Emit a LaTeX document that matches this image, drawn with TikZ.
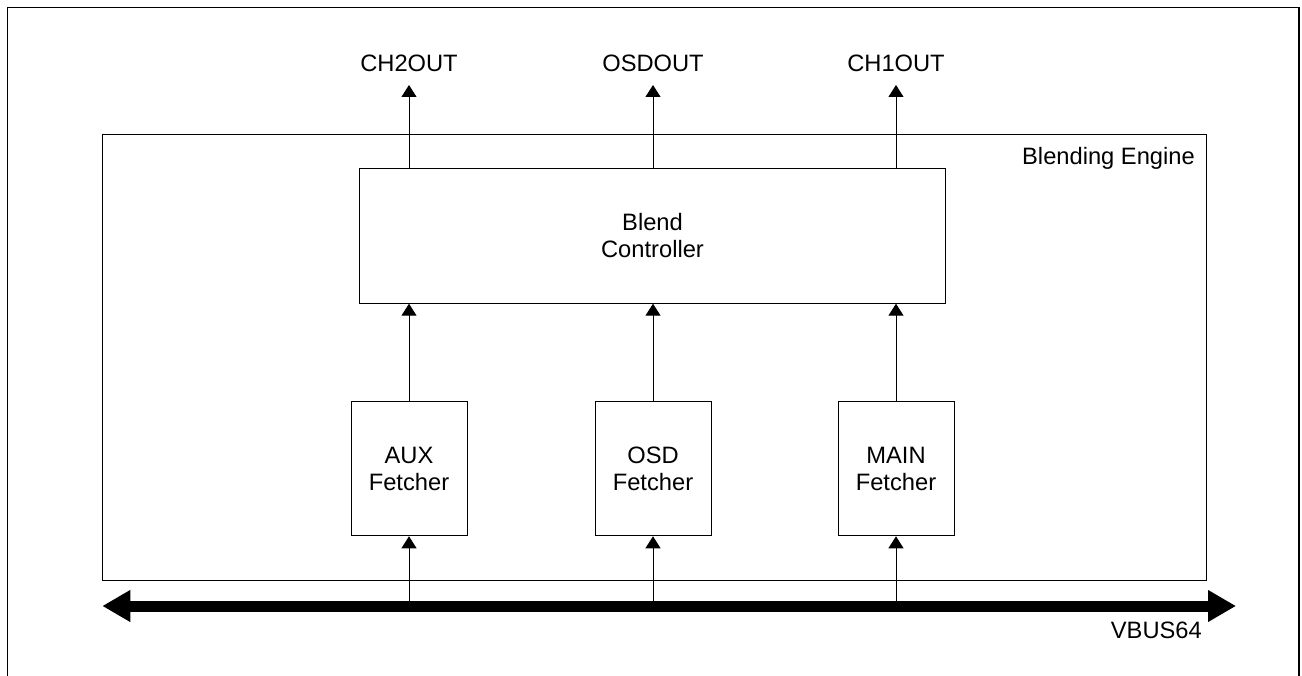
\documentclass[tikz,border=0pt]{standalone}
\usepackage{fontspec}
\setmainfont{Liberation Sans}
\usepackage{tikz}
\usetikzlibrary{arrows.meta, positioning}
\newcommand{\blockfont}{\fontsize{23.7}{26.5}\selectfont}
\tikzset{
  block/.style={
    rectangle, draw=black, line width=1pt,
    align=center, inner sep=0pt, font=\blockfont,
  },
  fetcher/.style={block, minimum width=116pt, minimum height=134pt},
  ctrlbox/.style={block, minimum width=586pt, minimum height=135pt},
  enginebox/.style={rectangle, draw=black, line width=1pt,
    minimum width=1103.7pt, minimum height=445pt, inner sep=0pt},
  lbl/.style={font=\blockfont, inner sep=0pt},
  arrow/.style={-{Triangle[length=12pt,width=15pt]}, line width=1pt},
  bus/.style={{Triangle[length=28pt,width=30pt]}-{Triangle[length=28pt,width=30pt]},
    line width=11pt},
  frame/.style={line width=1.2pt},
}

\begin{document}
\begin{tikzpicture}[x=1pt, y=-1pt]

  \useasboundingbox (0,0) rectangle (1302,676);
  \draw[frame] (7.3,690) -- (7.3,7.3) -- (1299,7.3) -- (1299,690);

  \node[enginebox] (engine) at (654.2,357.5) {};
  \node[lbl, anchor=base east] (enginelbl) at (1195,165) {Blending Engine};

  \node[ctrlbox] (ctrl) at (652.5,235.7) {Blend\\Controller};

  \node[fetcher] (osdf) at (653,468.8) {OSD\\Fetcher};
  \node[fetcher, left=127pt of osdf] (auxf) {AUX\\Fetcher};
  \node[fetcher, right=126pt of osdf] (mainf) {MAIN\\Fetcher};

  \node[lbl, anchor=base] (ch2out) at (auxf |- 0,71.7) {CH2OUT};
  \node[lbl, anchor=base] (osdout) at (osdf |- 0,71.7) {OSDOUT};
  \node[lbl, anchor=base] (ch1out) at (mainf |- 0,71.7) {CH1OUT};

  \coordinate (busL) at (102.3,606);
  \coordinate (busR) at (1236,606);
  \node[lbl, anchor=base east] (buslbl) at (1202,638) {VBUS64};

  \draw[bus] (busL) -- (busR);

  \draw[arrow, shorten >=13.3pt] (ctrl.north -| ch2out) -- (ch2out.base);
  \draw[arrow, shorten >=13.3pt] (ctrl.north -| osdout) -- (osdout.base);
  \draw[arrow, shorten >=13.3pt] (ctrl.north -| ch1out) -- (ch1out.base);

  \draw[arrow] (auxf) -- (auxf |- ctrl.south);
  \draw[arrow] (osdf) -- (osdf |- ctrl.south);
  \draw[arrow] (mainf) -- (mainf |- ctrl.south);

  \draw[arrow] (auxf |- busL) -- (auxf);
  \draw[arrow] (osdf |- busL) -- (osdf);
  \draw[arrow] (mainf |- busL) -- (mainf);

\end{tikzpicture}
\end{document}
